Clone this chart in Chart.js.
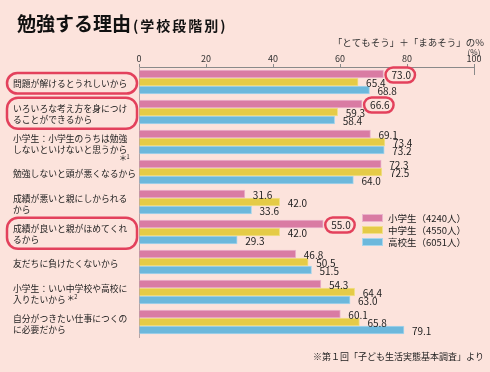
<!DOCTYPE html>
<html lang="ja">
<head>
<meta charset="utf-8">
<title>勉強する理由</title>
<script src="https://cdn.jsdelivr.net/npm/chart.js@4"></script>
<style>
  html, body { margin: 0; padding: 0; background: #fce3dc; }
  #wrap { width: 490px; height: 372px; }
</style>
</head>
<body>
<div id="wrap"><canvas id="reasonChart" width="490" height="372"></canvas></div>
<script>
// categories (one entry per reason, split into display lines)
const categories = [
    ['問題が解けるとうれしいから'],
    ['いろいろな考え方を身につけ', 'ることができるから'],
    ['小学生：小学生のうちは勉強', 'しないといけないと思うから'],
    ['勉強しないと頭が悪くなるから'],
    ['成績が悪いと親にしかられる', 'から'],
    ['成績が良いと親がほめてくれ', 'るから'],
    ['友だちに負けたくないから'],
    ['小学生：いい中学校や高校に', '入りたいから'],
    ['自分がつきたい仕事につくの', 'に必要だから']
];
const footMarks = ['', '', '1', '', '', '', '', '2', ''];

const seriesNames = ['小学生（4240人）', '中学生（4550人）', '高校生（6051人）'];
const elementary = [73.0, 66.6, 69.1, 72.3, 31.6, 55.0, 46.8, 54.3, 60.1];
const juniorHigh = [65.4, 59.3, 73.4, 72.5, 42.0, 42.0, 50.5, 64.4, 65.8];
const highSchool = [68.8, 58.4, 73.2, 64.0, 33.6, 29.3, 51.5, 63.0, 79.1];
const xTicks = [0, 20, 40, 60, 80, 100];

// reasons circled in red (label + 小学生 value)
const circled = [0, 1, 5];

const titleMain = '勉強する理由';
const titleSub = '(学校段階別)';
const unitNote = '「とてもそう」＋「まあそう」の%';
const sourceNote = '※第１回「子ども生活実態基本調査」より';

const JP = '"Noto Sans CJK JP", "Noto Sans", sans-serif';
const fills = ['#d97ba3', '#e5cb47', '#6cb8dc'];
const edges = ['#eab3cb', '#f1df8c', '#a8d5eb'];
const RED = '#e3415c';

const annotate = {
    id: 'annotate',
    afterDraw(chart) {
        const ctx = chart.ctx;
        const xs = chart.scales.x;
        const ys = chart.scales.y;
        const area = chart.chartArea;
        ctx.save();
        ctx.textBaseline = 'middle';

        // title
        ctx.fillStyle = '#111';
        ctx.font = 'bold 19px ' + JP;
        ctx.fillText(titleMain, 17, 24);
        let w = ctx.measureText(titleMain).width;
        ctx.font = 'bold 14px ' + JP;
        ctx.letterSpacing = '2px';
        ctx.fillText(titleSub, 17 + w + 2, 26);
        ctx.letterSpacing = '0px';

        // unit notes
        ctx.fillStyle = '#333';
        ctx.font = '9.5px ' + JP;
        ctx.textAlign = 'right';
        ctx.fillText(unitNote, 484, 42.5);
        ctx.textAlign = 'center';
        ctx.font = '8px ' + JP;
        ctx.fillText('(%)', xs.getPixelForValue(100), 51.5);

        // long end mark at 100
        const x100 = xs.getPixelForValue(100);
        ctx.strokeStyle = '#8a8a8a';
        ctx.lineWidth = 1;
        ctx.beginPath();
        ctx.moveTo(x100 + 0.5, area.top - 3);
        ctx.lineTo(x100 + 0.5, area.top + 8);
        ctx.stroke();

        // category labels
        ctx.textAlign = 'left';
        categories.forEach(function (lines, i) {
            const c = ys.getPixelForValue(i) + 2;
            const n = lines.length;
            ctx.fillStyle = '#222';
            ctx.font = '8.8px ' + JP;
            let lastY = 0;
            let lastEnd = 0;
            lines.forEach(function (line, k) {
                const y = c + (k - (n - 1) / 2) * 10.5;
                ctx.fillText(line, 13, y);
                lastY = y;
                lastEnd = 13 + ctx.measureText(line).width;
            });
            const mark = footMarks[i];
            if (mark) {
                let mx, my;
                if (lastEnd + 12 > 134) {
                    mx = 119; my = lastY + 9;
                } else {
                    mx = lastEnd + 1; my = lastY - 1;
                }
                ctx.font = '8px ' + JP;
                ctx.fillText('＊', mx, my);
                ctx.font = '5.5px ' + JP;
                ctx.fillText(mark, mx + 7.5, my - 1.5);
            }
            if (circled.includes(i)) {
                const top = c - (n - 1) / 2 * 10.5 - 11;
                const bottom = lastY + 9.5;
                ctx.strokeStyle = RED;
                ctx.lineWidth = 2.5;
                ctx.beginPath();
                ctx.roundRect(7, top, 130, bottom - top, 11);
                ctx.stroke();
            }
        });

        // value labels
        ctx.font = '10px ' + JP;
        ctx.fillStyle = '#222';
        chart.data.datasets.forEach(function (ds, d) {
            const meta = chart.getDatasetMeta(d);
            meta.data.forEach(function (bar, i) {
                const txt = ds.data[i].toFixed(1);
                const tx = bar.x + 8;
                const ty = bar.y + 1.5;
                ctx.fillText(txt, tx, ty);
                if (d === 0 && circled.includes(i)) {
                    const tw = ctx.measureText(txt).width;
                    ctx.strokeStyle = RED;
                    ctx.lineWidth = 2.5;
                    ctx.beginPath();
                    ctx.roundRect(tx - 6, ty - 8, tw + 10, 15, 7.5);
                    ctx.stroke();
                }
            });
        });

        // legend
        ctx.font = '9.5px ' + JP;
        chart.data.datasets.forEach(function (ds, d) {
            const y = 218 + d * 12;
            ctx.fillStyle = fills[d];
            ctx.fillRect(362, y - 4, 21, 8);
            ctx.strokeStyle = edges[d];
            ctx.lineWidth = 1;
            ctx.strokeRect(362.5, y - 3.5, 20, 7);
            ctx.fillStyle = '#222';
            ctx.fillText(ds.label, 388, y + 0.5);
        });

        // source
        ctx.textAlign = 'right';
        ctx.font = '9px ' + JP;
        ctx.fillStyle = '#222';
        ctx.fillText(sourceNote, 484, 357);
        ctx.restore();
    }
};

const ctx = document.getElementById('reasonChart').getContext('2d');
const reasonChart = new Chart(ctx, {
    type: 'bar',
    data: {
        labels: categories,
        datasets: [elementary, juniorHigh, highSchool].map(function (values, d) {
            return {
                label: seriesNames[d],
                data: values,
                backgroundColor: fills[d],
                borderColor: edges[d],
                borderWidth: 1,
                borderSkipped: 'start',
                barThickness: 8
            };
        })
    },
    plugins: [annotate],
    options: {
        responsive: false,
        animation: false,
        indexAxis: 'y',
        layout: { padding: { left: 139, right: 16, top: 50, bottom: 35 } },
        plugins: {
            legend: { display: false },
            tooltip: { enabled: false }
        },
        scales: {
            x: {
                position: 'top',
                min: 0,
                max: 100,
                afterBuildTicks: function (s) { s.ticks = xTicks.map(function (v) { return { value: v }; }); },
                afterFit: function (s) { s.height = 17; },
                grid: { drawOnChartArea: false, tickLength: 3, color: '#8a8a8a' },
                border: { color: '#8a8a8a' },
                ticks: {
                    padding: 1,
                    maxRotation: 0,
                    color: '#333',
                    font: { family: JP, size: 9, lineHeight: 1 }
                }
            },
            y: {
                afterFit: function (s) { s.width = 0; },
                ticks: { display: false },
                grid: { display: false },
                border: { display: true, color: '#b8a4a4' }
            }
        }
    }
});
</script>
</body>
</html>
